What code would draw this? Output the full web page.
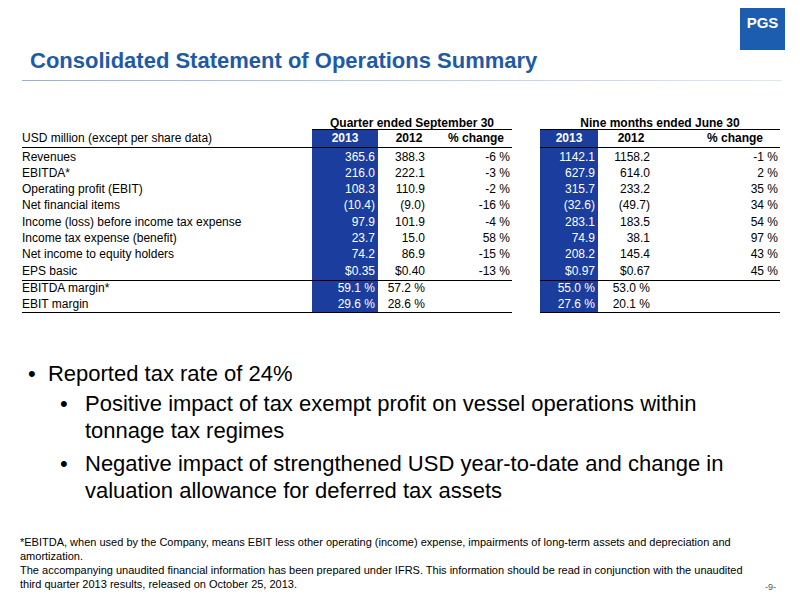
<!DOCTYPE html>
<html><head><meta charset="utf-8">
<script src="https://cdn.jsdelivr.net/npm/chart.js@4"></script>
<style>
body{margin:0;width:800px;height:600px;position:relative;background:#fff;font-family:"Liberation Sans",Arial,sans-serif;overflow:hidden}
.abs{position:absolute;white-space:nowrap}
#title{left:30px;top:48px;font-size:22px;font-weight:bold;color:#1f5aa8}
#rule{left:22px;top:80px;width:760px;height:1px;background:linear-gradient(90deg,#9bb0d0,#dfe6f0)}
.t{font-size:12px;color:#000}
.hb{font-weight:bold}
.r{text-align:right}
.blue{background:#1a3d9e}
.w{color:#fff}
.line{height:1px;background:#000}
.bul{font-size:22px;color:#000}
.fn{font-size:11px;color:#000}
#logo{left:740px;top:8px;width:45px;height:42px;background:#1d5db0;color:#fff;font-weight:bold;font-size:15px;text-align:center;line-height:30px}
</style></head><body>
<div class="abs" id="logo">PGS</div>
<div class="abs" id="title">Consolidated Statement of Operations Summary</div>
<div class="abs" id="rule"></div>
<div id="tbl"></div>
<canvas id="c" width="1" height="1" style="position:absolute;left:0;top:0"></canvas>
<script>
const rowLabels=["Revenues","EBITDA*","Operating profit (EBIT)","Net financial items","Income (loss) before income tax expense","Income tax expense (benefit)","Net income to equity holders","EPS basic","EBITDA margin*","EBIT margin"];
const q2013=["365.6","216.0","108.3","(10.4)","97.9","23.7","74.2","$0.35","59.1 %","29.6 %"];
const q2012=["388.3","222.1","110.9","(9.0)","101.9","15.0","86.9","$0.40","57.2 %","28.6 %"];
const qChg=["-6 %","-3 %","-2 %","-16 %","-4 %","58 %","-15 %","-13 %","",""];
const n2013=["1142.1","627.9","315.7","(32.6)","283.1","74.9","208.2","$0.97","55.0 %","27.6 %"];
const n2012=["1158.2","614.0","233.2","(49.7)","183.5","38.1","145.4","$0.67","53.0 %","20.1 %"];
const nChg=["-1 %","2 %","35 %","34 %","54 %","97 %","43 %","45 %","",""];
const rowY=[150,166,182,198,215,231,247,264,281,297];
let h='';
function d(cls,st,txt){h+=`<div class="abs ${cls}" style="${st}">${txt}</div>`;}
d('blue','left:312px;top:129px;width:66px;height:183px','');
d('blue','left:540px;top:129px;width:58px;height:183px','');
d('t hb','left:312px;top:116px;width:200px;text-align:center','Quarter ended September 30');
d('t hb','left:540px;top:116px;width:240px;text-align:center','Nine months ended June 30');
d('line','left:312px;top:129px;width:200px','');
d('line','left:540px;top:129px;width:240px','');
d('t','left:22px;top:131px','USD million (except per share data)');
d('t hb w','left:312px;top:131px;width:66px;text-align:center','2013');
d('t hb','left:380px;top:131px;width:58px;text-align:center','2012');
d('t hb','left:440px;top:131px;width:72px;text-align:center','% change');
d('t hb w','left:540px;top:131px;width:58px;text-align:center','2013');
d('t hb','left:602px;top:131px;width:58px;text-align:center','2012');
d('t hb','left:690px;top:131px;width:90px;text-align:center','% change');
d('line','left:22px;top:147px;width:490px','');
d('line','left:540px;top:147px;width:240px','');
rowLabels.forEach((l,i)=>{const y=rowY[i];
 d('t',`left:22px;top:${y}px`,l);
 d('t w r',`left:312px;top:${y}px;width:63px`,q2013[i]);
 d('t r',`left:380px;top:${y}px;width:45px`,q2012[i]);
 d('t r',`left:440px;top:${y}px;width:70px`,qChg[i]);
 d('t w r',`left:540px;top:${y}px;width:55px`,n2013[i]);
 d('t r',`left:600px;top:${y}px;width:50px`,n2012[i]);
 d('t r',`left:690px;top:${y}px;width:88px`,nChg[i]);
});
d('line','left:22px;top:280px;width:490px','');
d('line','left:540px;top:280px;width:240px','');
d('line','left:22px;top:312px;width:490px','');
d('line','left:540px;top:312px;width:240px','');
d('bul','left:28px;top:361px','•&nbsp;&nbsp;Reported tax rate of 24%');
d('bul','left:60px;top:391px','•');
d('bul','left:85px;top:391px','Positive impact of tax exempt profit on vessel operations within');
d('bul','left:85px;top:418px','tonnage tax regimes');
d('bul','left:60px;top:451px','•');
d('bul','left:85px;top:451px','Negative impact of strengthened USD year-to-date and change in');
d('bul','left:85px;top:478px','valuation allowance for deferred tax assets');
d('fn','left:20px;top:536px','*EBITDA, when used by the Company, means EBIT less other operating (income) expense, impairments of long-term assets and depreciation and');
d('fn','left:20px;top:550px','amortization.');
d('fn','left:20px;top:564px','The accompanying unaudited financial information has been prepared under IFRS. This information should be read in conjunction with the unaudited');
d('fn','left:20px;top:578px','third quarter 2013 results, released on October 25, 2013.');
d('fn','left:765px;top:582px;font-size:9px;color:#555','-9-');
document.getElementById('tbl').innerHTML=h;
</script>
</body></html>
